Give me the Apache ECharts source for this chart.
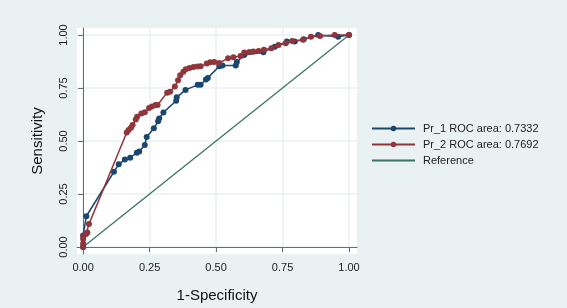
<!DOCTYPE html>
<html>
<head>
<meta charset="utf-8">
<script src="https://cdn.jsdelivr.net/npm/echarts@6/dist/echarts.min.js"></script>
<style>
  html, body { margin: 0; padding: 0; background: #e9f1f3; }
  #chart_roc { width: 567px; height: 308px; }
</style>
</head>
<body>
<div id="chart_roc"></div>
<script>
  // values
  let pr1X = [0, 0, 0.012, 0.116, 0.134, 0.157, 0.177, 0.202, 0.211, 0.232, 0.239, 0.266, 0.282, 0.286, 0.302, 0.350, 0.352, 0.385, 0.431, 0.442, 0.462, 0.469, 0.512, 0.524, 0.574, 0.578, 0.606, 0.678, 0.721, 0.766, 0.796, 0.830, 0.884, 0.959, 1.0]
  let pr1Y = [0, 0.054, 0.145, 0.355, 0.390, 0.413, 0.421, 0.445, 0.450, 0.481, 0.519, 0.560, 0.593, 0.606, 0.635, 0.690, 0.706, 0.741, 0.765, 0.765, 0.790, 0.797, 0.852, 0.856, 0.856, 0.873, 0.906, 0.919, 0.945, 0.969, 0.969, 0.980, 1.0, 0.992, 1.0]
  let pr2X = [0, 0, 0, 0.001, 0.011, 0.016, 0.022, 0.164, 0.171, 0.180, 0.186, 0.198, 0.203, 0.219, 0.232, 0.248, 0.259, 0.272, 0.280, 0.316, 0.327, 0.345, 0.357, 0.365, 0.377, 0.386, 0.400, 0.415, 0.430, 0.442, 0.465, 0.478, 0.493, 0.511, 0.545, 0.565, 0.592, 0.606, 0.625, 0.640, 0.660, 0.680, 0.708, 0.735, 0.762, 0.786, 0.827, 0.857, 0.891, 0.946, 1.0]
  let pr2Y = [0, 0.016, 0.038, 0.050, 0.061, 0.069, 0.108, 0.540, 0.552, 0.563, 0.575, 0.601, 0.614, 0.630, 0.636, 0.656, 0.663, 0.670, 0.670, 0.728, 0.732, 0.757, 0.786, 0.810, 0.827, 0.838, 0.844, 0.849, 0.851, 0.853, 0.865, 0.872, 0.873, 0.868, 0.890, 0.895, 0.901, 0.917, 0.920, 0.922, 0.924, 0.930, 0.937, 0.953, 0.961, 0.972, 0.977, 0.992, 0.995, 1.0, 1.0]
  let refX = [0, 1]
  let refY = [0, 1]
  let ticks = [0, 0.25, 0.5, 0.75, 1]
  let names = ['Pr_1 ROC area: 0.7332', 'Pr_2 ROC area: 0.7692', 'Reference']

  function pairs (xs, ys) {
    return xs.map((x, i) => [x, ys[i]])
  }

  let axisCommon = {
    type: 'value',
    axisLine: { show: true, lineStyle: { color: '#6b6b6b', width: 1 } },
    axisTick: { show: true, length: 5, customValues: ticks, lineStyle: { color: '#6b6b6b' } },
    splitLine: { show: true, lineStyle: { color: '#eaf0f2', width: 1.5 } },
    nameLocation: 'middle',
    nameTextStyle: { fontFamily: 'Liberation Sans', fontSize: 15, color: '#111' }
  }

  let chart = echarts.init(document.getElementById('chart_roc'))
  let options = {
    backgroundColor: '#e9f1f3',
    animation: false,
    grid: {
      left: 77, right: 210, top: 28, bottom: 53,
      show: true, backgroundColor: '#ffffff', borderWidth: 0
    },
    legend: {
      orient: 'vertical',
      left: 366,
      top: 118,
      itemWidth: 43,
      itemHeight: 7,
      itemGap: 5,
      data: [
        { name: names[0] },
        { name: names[1] },
        { name: names[2], itemStyle: { opacity: 0 } }
      ],
      textStyle: { fontFamily: 'Liberation Sans', fontSize: 11, color: '#222', padding: [0, 0, 0, 3] }
    },
    xAxis: Object.assign({}, axisCommon, {
      min: -0.023,
      max: 1.03,
      name: '1-Specificity',
      nameGap: 34,
      axisLabel: {
        customValues: ticks,
        margin: 8,
        fontFamily: 'Liberation Sans', fontSize: 11, color: '#222',
        formatter: (v) => v.toFixed(2)
      }
    }),
    yAxis: Object.assign({}, axisCommon, {
      min: -0.033,
      max: 1.033,
      name: 'Sensitivity',
      nameGap: 32,
      axisLabel: {
        customValues: ticks,
        rotate: 90,
        margin: 8,
        fontFamily: 'Liberation Sans', fontSize: 11, color: '#222',
        formatter: (v) => v.toFixed(2)
      }
    }),
    series: [
      {
        name: names[0],
        type: 'line',
        data: pairs(pr1X, pr1Y),
        symbol: 'circle',
        symbolSize: 6,
        z: 3,
        itemStyle: { color: '#1a476f' },
        lineStyle: { color: '#1a476f', width: 1.5 }
      },
      {
        name: names[1],
        type: 'line',
        data: pairs(pr2X, pr2Y),
        symbol: 'circle',
        symbolSize: 6,
        z: 4,
        itemStyle: { color: '#90353b' },
        lineStyle: { color: '#90353b', width: 1.5 }
      },
      {
        name: names[2],
        type: 'line',
        data: pairs(refX, refY),
        showSymbol: false,
        symbol: 'none',
        z: 2,
        itemStyle: { color: '#3a7562' },
        lineStyle: { color: '#3a7562', width: 1.3 }
      }
    ]
  }
  chart.setOption(options)
</script>
</body>
</html>
